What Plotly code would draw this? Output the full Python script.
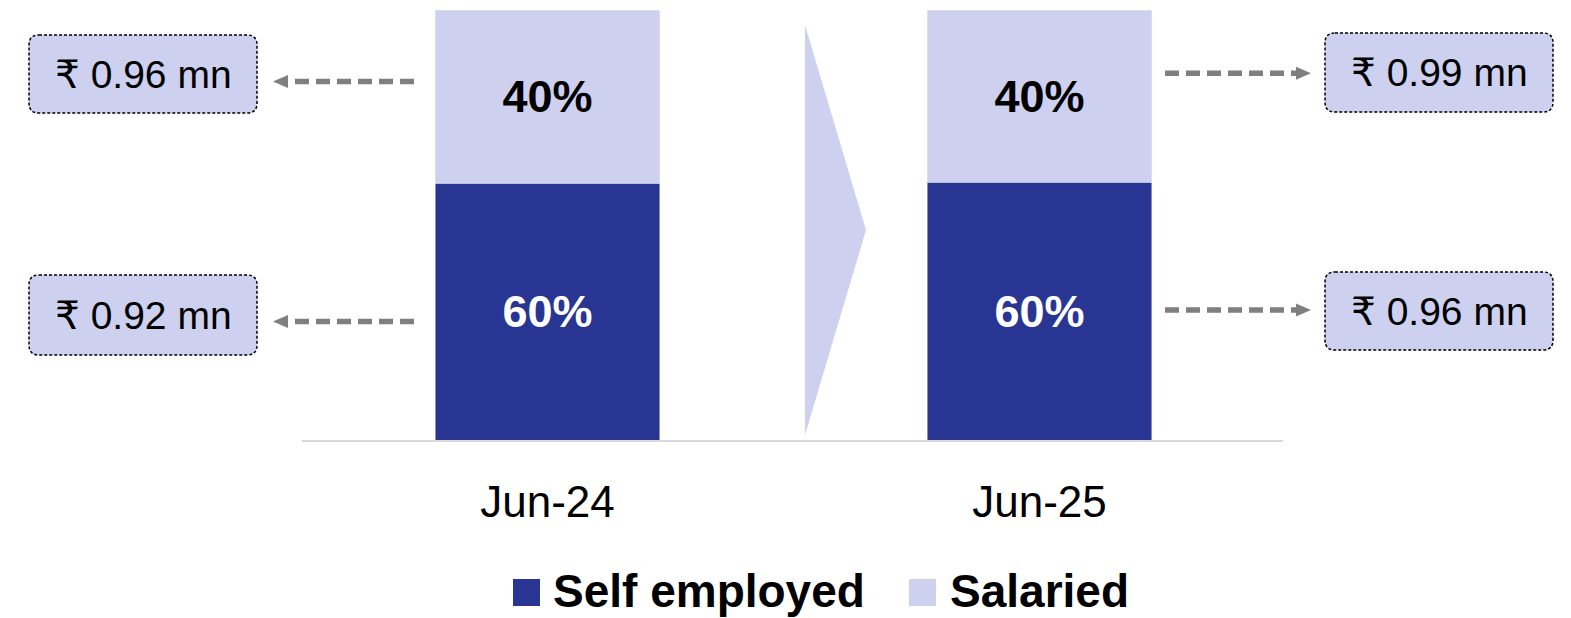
import plotly.graph_objects as go

W, H = 1571, 618

categories = ["Jun-24", "Jun-25"]
self_employed = [59.7, 60.0]
salaried = [40.3, 40.0]
series_names = ["Self employed", "Salaried"]
left_values = ["₹ 0.96 mn", "₹ 0.92 mn"]   # Jun-24: salaried (top), self employed (bottom)
right_values = ["₹ 0.99 mn", "₹ 0.96 mn"]  # Jun-25: salaried (top), self employed (bottom)

DARK = "#283593"
LIGHT = "#CDD1EF"
GREY = "#7F7F7F"
FONT = "Arial, Liberation Sans, DejaVu Sans, sans-serif"


def px(x):
    return x / W


def py(y):
    return 1 - y / H


fig = go.Figure()
fig.add_trace(go.Bar(
    x=categories, y=self_employed, name=series_names[0], marker_color=DARK,
    width=0.457, texttemplate="<b>%{y:.0f}%</b>", textposition="inside",
    insidetextanchor="middle", textangle=0, constraintext="none",
    textfont=dict(color="white", size=45, family=FONT), showlegend=False,
    hoverinfo="skip"))
fig.add_trace(go.Bar(
    x=categories, y=salaried, name=series_names[1], marker_color=LIGHT,
    width=0.457, texttemplate="<b>%{y:.0f}%</b>", textposition="inside",
    insidetextanchor="middle", textangle=0, constraintext="none",
    textfont=dict(color="black", size=45, family=FONT), showlegend=False,
    hoverinfo="skip"))

shapes = []
annotations = []

# chevron
shapes.append(dict(type="path", xref="paper", yref="paper", layer="below",
                   path=f"M {px(805)},{py(25)} L {px(866)},{py(230)} L {px(805)},{py(435)} Z",
                   fillcolor=LIGHT, line=dict(width=0)))


def rounded_box(x0, y0, x1, y1, r=10):
    p = (f"M {px(x0 + r)},{py(y0)} L {px(x1 - r)},{py(y0)} Q {px(x1)},{py(y0)} {px(x1)},{py(y0 + r)} "
         f"L {px(x1)},{py(y1 - r)} Q {px(x1)},{py(y1)} {px(x1 - r)},{py(y1)} "
         f"L {px(x0 + r)},{py(y1)} Q {px(x0)},{py(y1)} {px(x0)},{py(y1 - r)} "
         f"L {px(x0)},{py(y0 + r)} Q {px(x0)},{py(y0)} {px(x0 + r)},{py(y0)} Z")
    return dict(type="path", xref="paper", yref="paper", path=p, fillcolor=LIGHT,
                line=dict(color="black", width=1.5, dash="3px,2px"))


def arrow(x_from, x_to, y):
    # dashed shaft plus triangular head pointing to x_to
    d = 1 if x_to > x_from else -1
    base = x_to - d * 15
    s = [dict(type="line", xref="paper", yref="paper", x0=px(x_from), x1=px(base),
              y0=py(y), y1=py(y), line=dict(color=GREY, width=5.5, dash="14px,7px")),
         dict(type="path", xref="paper", yref="paper",
              path=f"M {px(base)},{py(y - 6.5)} L {px(x_to)},{py(y)} L {px(base)},{py(y + 6.5)} Z",
              fillcolor=GREY, line=dict(width=0))]
    return s


boxes = [
    (29, 35, 257, 113, left_values[0], 74, 143),
    (29, 275, 257, 355, left_values[1], 315, 143),
    (1325, 33, 1553, 112, right_values[0], 72.5, 1439),
    (1325, 272, 1553, 350, right_values[1], 311, 1439),
]
for x0, y0, x1, y1, txt, cy, cx in boxes:
    shapes.append(rounded_box(x0, y0, x1, y1))
    annotations.append(dict(xref="paper", yref="paper", x=px(cx), y=py(cy), text=txt,
                            showarrow=False, xanchor="center", yanchor="middle",
                            font=dict(size=39, color="black", family=FONT)))

shapes += arrow(414, 273, 81.5)
shapes += arrow(414, 273, 321.5)
shapes += arrow(1165, 1311, 73.3)
shapes += arrow(1165, 1311, 310)

# legend
for (sx, col, label, tx) in [(513, DARK, series_names[0], 551), (909, LIGHT, series_names[1], 948)]:
    shapes.append(dict(type="rect", xref="paper", yref="paper", x0=px(sx), x1=px(sx + 27),
                       y0=py(606), y1=py(579), fillcolor=col, line=dict(width=0)))
    annotations.append(dict(xref="paper", yref="paper", x=px(tx), y=py(591), text=f"<b>{label}</b>",
                            showarrow=False, xanchor="left", yanchor="middle",
                            font=dict(size=46, color="black", family=FONT)))

fig.update_layout(
    width=W, height=H, margin=dict(l=0, r=0, t=0, b=0),
    paper_bgcolor="white", plot_bgcolor="white", barmode="stack",
    shapes=shapes, annotations=annotations, showlegend=False,
    xaxis=dict(domain=[px(302), px(1283)], range=[-0.499, 1.495], type="category",
               showline=True, linecolor="#D9D9D9", linewidth=2, showgrid=False,
               ticks="", ticklabelstandoff=22,
               tickfont=dict(size=44, color="black", family=FONT)),
    yaxis=dict(domain=[py(440), py(10)], range=[0, 100], visible=False),
)

fig.write_html("out.html", config={"displayModeBar": False},
               post_script="document.body.style.margin='0';document.body.style.overflow='hidden';")
